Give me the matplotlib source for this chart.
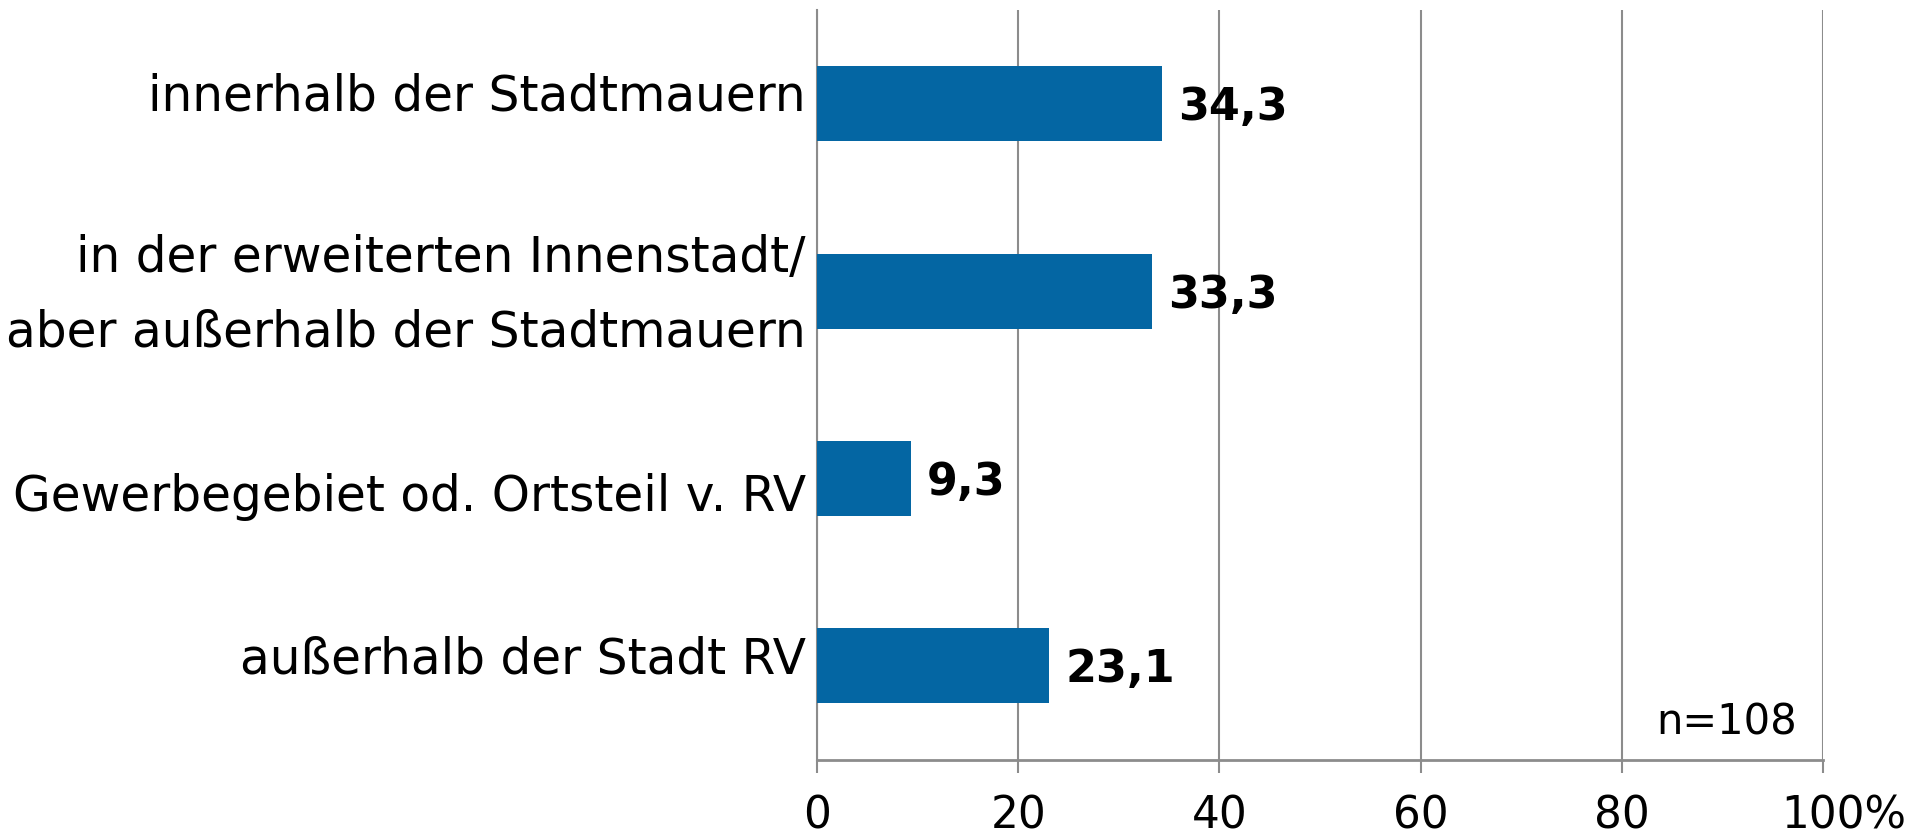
import matplotlib
matplotlib.use("Agg")
import matplotlib.pyplot as plt
from matplotlib.transforms import offset_copy, ScaledTranslation

categories = [
    "innerhalb der Stadtmauern",
    "in der erweiterten Innenstadt/\naber außerhalb der Stadtmauern",
    "Gewerbegebiet od. Ortsteil v. RV",
    "außerhalb der Stadt RV",
]
values = [34.3, 33.3, 9.3, 23.1]
value_labels = ["34,3", "33,3", "9,3", "23,1"]
xticks = [0, 20, 40, 60, 80, 100]
xtick_labels = ["0", "20", "40", "60", "80", "100%"]
note = "n=108"

# per-label vertical nudges (points) mimicking the original label layout
label_nudge = [5.0, -3.0, -13.0, 4.2]

plt.rcParams['font.family'] = ['DejaVu Sans']

fig = plt.figure(figsize=(19.3, 8.35), dpi=100)
ax = fig.add_axes([0.4233, 0.0904, 0.5213, 0.8976])

ypos = list(range(len(categories)))
ax.barh(ypos, values, height=0.4, color='#0466a3', zorder=3)
ax.set_ylim(len(categories) - 0.5, -0.5)
ax.set_xlim(0, 100)

ax.set_yticks(ypos)
ax.set_yticklabels([])
ax.tick_params(axis='y', length=0)
ytrans = ax.get_yaxis_transform()
for y, lab, dy in zip(ypos, categories, label_nudge):
    tr = offset_copy(ytrans, fig=fig, x=-8, y=dy, units='points')
    ax.text(0, y, lab, transform=tr, ha='right', va='center', fontsize=35,
            linespacing=1.72, multialignment='right')

ax.set_xticks(xticks)
ax.set_xticklabels(xtick_labels, fontsize=31.5)
ax.tick_params(axis='x', length=9.5, width=1.5, color='#8c8c8c', pad=16)

ax.grid(axis='x', color='#8c8c8c', linewidth=1.5, zorder=0)
for s in ['top', 'right']:
    ax.spines[s].set_visible(False)
ax.spines['left'].set_color('#8c8c8c')
ax.spines['left'].set_linewidth(1.5)
ax.spines['bottom'].set_color('#8c8c8c')
ax.spines['bottom'].set_linewidth(2)

for y, v, lab in zip(ypos, values, value_labels):
    ax.annotate(lab, (v, y), xytext=(16, -4), textcoords='offset pixels',
                ha='left', va='center', fontsize=32, fontweight='bold', zorder=4)

ax.text(97.4, 3.3, note, ha='right', va='center', fontsize=30)

# center the number "100" on its tick, with the percent sign hanging to the right
last = ax.get_xticklabels()[-1]
last.set_transform(last.get_transform() + ScaledTranslation(0.21, 0, fig.dpi_scale_trans))

fig.savefig('out.png', dpi=100, facecolor='white')
